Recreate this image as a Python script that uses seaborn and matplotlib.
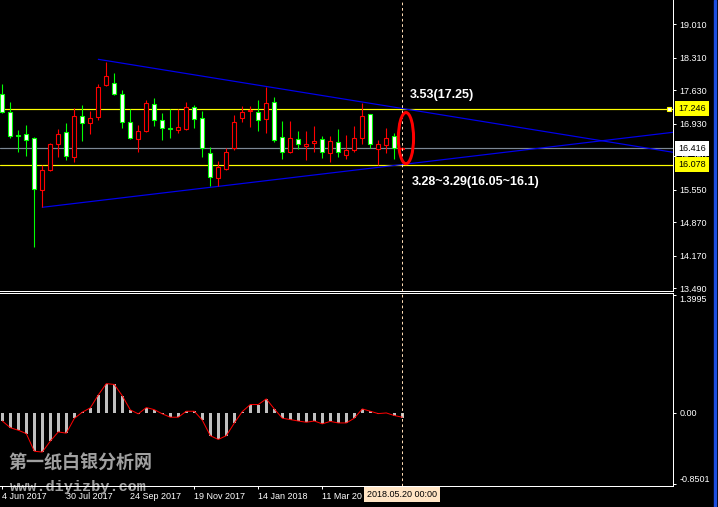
import numpy as np
import pandas as pd
import matplotlib
matplotlib.use("Agg")
import matplotlib.pyplot as plt
import matplotlib.transforms as mtransforms
from matplotlib.patches import Ellipse, Rectangle
import seaborn as sns

# ---------------- data (weekly silver candles) ----------------
week_start = "2017-06-04"
opens = [17.546, 17.183, 16.696, 16.710, 16.627, 15.539, 15.964, 16.501, 16.752, 16.229,
         17.099, 16.940, 17.066, 17.741, 17.789, 17.559, 16.974, 16.606, 16.773, 17.350,
         17.003, 16.842, 16.794, 16.815, 17.287, 17.045, 16.313, 15.790, 15.978, 16.424,
         17.045, 17.204, 17.183, 17.024, 17.379, 16.647, 16.334, 16.606, 16.459, 16.522,
         16.606, 16.313, 16.543, 16.271, 16.376, 16.627, 17.128, 16.397, 16.480, 16.668,
         16.410]
highs = [17.762, 17.385, 16.800, 16.905, 16.650, 16.068, 16.522, 16.821, 16.940, 17.254,
         17.323, 17.197, 17.756, 18.228, 17.986, 17.636, 17.239, 16.905, 17.427, 17.469,
         17.149, 17.239, 17.239, 17.379, 17.323, 17.197, 16.445, 16.152, 16.417, 17.114,
         17.302, 17.302, 17.427, 17.705, 17.496, 16.988, 16.988, 16.779, 16.779, 16.884,
         16.675, 16.675, 16.821, 16.696, 16.884, 17.358, 17.130, 16.585, 16.836, 16.731,
         16.451]
lows = [17.150, 16.639, 16.346, 16.263, 14.360, 15.184, 15.943, 16.242, 16.173, 16.125,
        16.576, 16.723, 17.009, 17.720, 17.540, 16.836, 16.606, 16.334, 16.760, 16.890,
        16.597, 16.639, 16.744, 16.800, 16.836, 16.242, 15.636, 15.636, 15.960, 16.382,
        16.974, 16.869, 16.779, 16.744, 16.555, 16.188, 16.320, 16.397, 16.167, 16.346,
        16.208, 16.125, 16.229, 16.188, 16.334, 16.501, 16.417, 16.062, 16.313, 16.188,
        16.382]
closes = [17.170, 16.668, 16.668, 16.585, 15.560, 15.958, 16.501, 16.710, 16.250, 17.087,
          16.940, 17.045, 17.693, 17.935, 17.553, 16.961, 16.627, 16.785, 17.371, 17.003,
          16.836, 16.815, 16.857, 17.287, 17.024, 16.417, 15.824, 16.020, 16.334, 16.961,
          17.183, 17.218, 17.003, 17.371, 16.585, 16.334, 16.627, 16.501, 16.501, 16.564,
          16.334, 16.564, 16.334, 16.376, 16.627, 17.087, 16.501, 16.501, 16.627, 16.416,
          16.416]

macd_hist = [-0.100, -0.180, -0.210, -0.250, -0.460, -0.470, -0.340, -0.230, -0.245, -0.070,
             0.005, 0.056, 0.210, 0.345, 0.335, 0.200, 0.032, -0.015, 0.060, 0.035,
             -0.015, -0.055, -0.055, 0.016, 0.016, -0.090, -0.275, -0.320, -0.275, -0.125,
             0.012, 0.096, 0.096, 0.163, 0.044, -0.067, -0.083, -0.100, -0.115, -0.100,
             -0.134, -0.105, -0.123, -0.123, -0.067, 0.044, 0.016, -0.012, -0.004, -0.035,
             -0.060]
signal_line = [-0.100, -0.180, -0.210, -0.250, -0.460, -0.470, -0.340, -0.230, -0.245, -0.070,
               0.005, 0.056, 0.210, 0.345, 0.335, 0.200, 0.032, -0.015, 0.060, 0.035,
               -0.015, -0.055, -0.055, 0.016, 0.016, -0.090, -0.275, -0.320, -0.275, -0.125,
               0.012, 0.096, 0.096, 0.163, 0.044, -0.067, -0.083, -0.100, -0.115, -0.100,
               -0.134, -0.105, -0.123, -0.123, -0.067, 0.044, 0.016, -0.012, -0.004, -0.035,
               -0.055]

price_ticks = [19.010, 18.310, 17.630, 16.930, 16.250, 15.550, 14.870, 14.170, 13.490]
osc_ticks = [1.3995, 0.0, -0.8501]
osc_tick_labels = ["1.3995", "0.00", "-0.8501"]
date_tick_idx = [0, 8, 16, 24, 32, 40, 48]
date_tick_labels = ["4 Jun 2017", "30 Jul 2017", "24 Sep 2017", "19 Nov 2017",
                    "14 Jan 2018", "11 Mar 20", ""]
cursor_idx = 50
cursor_label = "2018.05.20 00:00"

resistance = 17.246
support = 16.078
last_price = 16.416
upper_trend_x = [12.0, 84.0]
upper_trend_y = [18.278, 16.330]
lower_trend_x = [5.0, 84.0]
lower_trend_y = [15.184, 16.755]
note_top = "3.53(17.25)"
note_bottom = "3.28~3.29(16.05~16.1)"
watermark_cn = "第一纸白银分析网"
watermark_url = "www.diyizby.com"

# ---------------- style ----------------
sns.set_theme(style="dark", rc={"axes.facecolor": "black", "figure.facecolor": "black",
                                "axes.grid": False})
plt.rcParams["font.family"] = ["Liberation Sans", "DejaVu Sans"]

W, H = 718.0, 507.0
PX = 72.0 / 100.0  # one pixel in points


def box(x0, y0, x1, y1):
    return [x0 / W, 1 - y1 / H, (x1 - x0) / W, (y1 - y0) / H]


fig = plt.figure(figsize=(W / 100, H / 100), dpi=100)
fig.patch.set_facecolor("black")
ax = fig.add_axes(box(0, 0, 673, 291))
ax2 = fig.add_axes(box(0, 293, 673, 486))

x = np.arange(len(opens))
o = np.array(opens); h = np.array(highs); l = np.array(lows); c = np.array(closes)
up = c >= o
edge = np.where(up, "#ff0000", "#00ff00")
fill = np.where(up, "#000000", "#ffffff")

# horizontal levels
ax.axhline(resistance, color="#ffff00", lw=PX * 1.2, zorder=2)
ax.axhline(support, color="#ffff00", lw=PX * 1.2, zorder=2)
ax.axhline(last_price, color="#7c8794", lw=PX * 1.2, zorder=2)

# trend lines
sns.lineplot(x=upper_trend_x, y=upper_trend_y, ax=ax, color="#0000ee", lw=PX * 1.2, zorder=2.2)
sns.lineplot(x=lower_trend_x, y=lower_trend_y, ax=ax, color="#0000ee", lw=PX * 1.2, zorder=2.2)

# candles
ax.vlines(x, l, h, colors=edge, lw=PX * 1.1, zorder=3)
ax.bar(x, np.maximum(np.abs(c - o), 0.004), bottom=np.minimum(o, c), width=0.47,
       color=fill, edgecolor=edge, linewidth=PX * 1.1, zorder=4)

# cursor line
for a in (ax, ax2):
    a.axvline(cursor_idx, color="#ffdcb4", lw=PX, ls=(0, (2.7, 2.7)), zorder=5)

# red ellipse
ax.add_patch(Ellipse((50.46, 16.63), 1.9, 1.07, fill=False, edgecolor="#ff0000",
                     lw=PX * 3, zorder=6))

# annotations
ax.text(50.96, 17.542, note_top, color="white", fontsize=9, fontweight="bold",
        ha="left", va="center", zorder=7)
ax.text(51.21, 15.713, note_bottom, color="white", fontsize=9, fontweight="bold",
        ha="left", va="center", zorder=7)

ax.set_xlim(-0.2875, 83.84)
ax.set_ylim(13.434, 19.518)

# right price axis
ax.yaxis.tick_right()
ax.set_yticks(price_ticks)
ax.set_yticklabels([f"{v:.3f}" for v in price_ticks])
ax.tick_params(axis="y", colors="white", labelcolor="white", length=2.5, width=PX,
               pad=2, labelsize=6.5, direction="out", right=True, left=False)
ax.tick_params(axis="x", bottom=False, labelbottom=False)
ax.set_xlabel(""); ax.set_ylabel("")
for s in ("left", "top"):
    ax.spines[s].set_visible(False)
for s in ("right", "bottom"):
    ax.spines[s].set_visible(True)
    ax.spines[s].set_color("white")
    ax.spines[s].set_linewidth(PX)

trans = mtransforms.blended_transform_factory(ax.transAxes, ax.transData)
for val, bg in ((resistance, "#ffff00"), (last_price, "#ffffff"), (support, "#ffff00")):
    ax.text(1.0075, val, f"{val:.3f}", transform=trans, ha="left", va="center",
            fontsize=6.5, color="black", clip_on=False, zorder=10,
            bbox=dict(boxstyle="square,pad=0.35", fc=bg, ec="none"))
ax.plot([83.3], [resistance], marker="s", ms=3.2, mfc="white", mec="#ffff00",
        mew=0.8, clip_on=False, zorder=8)

# ---------------- oscillator panel ----------------
sns.barplot(x=x, y=macd_hist, native_scale=True, width=0.375, color="#c0c0c0",
            saturation=1, errorbar=None, linewidth=0, ax=ax2, zorder=2)
sns.lineplot(x=x, y=signal_line, color="#ff0000", lw=PX, ax=ax2, zorder=3)
ax2.set_xlim(-0.2875, 83.84)
ax2.set_ylim(-0.874, 1.424)
ax2.set_xlabel(""); ax2.set_ylabel("")

ax2.yaxis.tick_right()
ax2.set_yticks(osc_ticks)
ax2.set_yticklabels(osc_tick_labels)
ax2.tick_params(axis="y", colors="white", labelcolor="white", length=2.5, width=PX,
                pad=2, labelsize=6.5, direction="out", right=True, left=False)
ax2.set_xticks(date_tick_idx)
ax2.set_xticklabels(date_tick_labels)
ax2.tick_params(axis="x", colors="white", labelcolor="white", length=2.5, width=PX,
                pad=1.5, labelsize=6.5, direction="out", bottom=True)
for lbl in ax2.get_xticklabels():
    lbl.set_horizontalalignment("left")
ylbls = ax2.get_yticklabels()
if len(ylbls) == 3:
    ylbls[0].set_verticalalignment("top")
    ylbls[2].set_verticalalignment("bottom")

ax2.spines["left"].set_visible(False)
for s in ("right", "bottom", "top"):
    ax2.spines[s].set_visible(True)
    ax2.spines[s].set_color("white")
    ax2.spines[s].set_linewidth(PX)

tr2 = mtransforms.blended_transform_factory(ax2.transData, ax2.transAxes)
ax2.text(cursor_idx, -0.045, cursor_label, transform=tr2, ha="center", va="center",
         fontsize=6.5, color="black", clip_on=False, zorder=10,
         bbox=dict(boxstyle="square,pad=0.35", fc="#ffe4c4", ec="none"))

# watermarks
ax2.text(8 / 673, (486 - 463.5) / 193, watermark_cn, transform=ax2.transAxes,
         fontsize=13, color="#a0a0a0", family=["Noto Sans CJK SC", "DejaVu Sans"],
         fontweight="bold", ha="left", va="center", zorder=1, clip_on=False)
ax2.text(10 / 673, (486 - 486.5) / 193, watermark_url, transform=ax2.transAxes,
         fontsize=11, color="#a0a0a0", family=["Liberation Mono", "DejaVu Sans Mono"],
         fontweight="bold", ha="left", va="center", zorder=1, clip_on=False)

# window border on the right
fig.patches.append(Rectangle((713.5 / W, 0), 2.5 / W, 1, transform=fig.transFigure,
                             color="#1c4ee0", zorder=0))

fig.savefig("out.png", dpi=100, facecolor="black")
